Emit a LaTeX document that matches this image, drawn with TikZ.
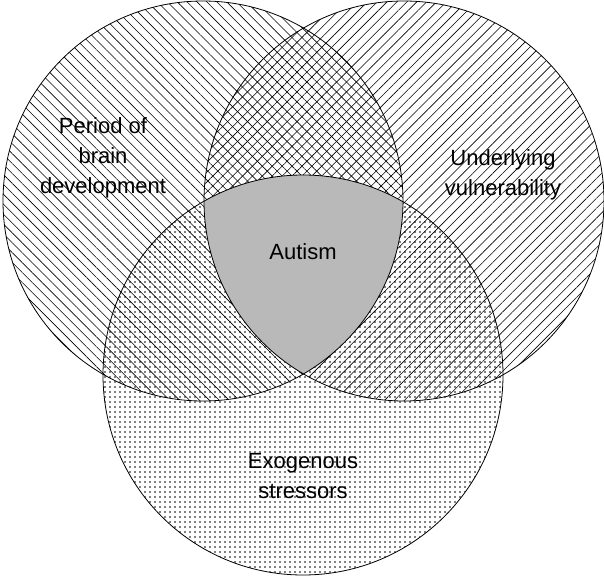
\documentclass[tikz,border=0pt]{standalone}
\usepackage{fontspec}
\setmainfont{Liberation Sans}
\usetikzlibrary{patterns.meta}
\begin{document}
\begin{tikzpicture}[x=1pt,y=-1pt,
  circ/.style={draw=black,line width=0.8pt},
  lbl/.style={align=center,font=\fontsize{22}{30}\selectfont,inner sep=1pt}]
\useasboundingbox (0,0) rectangle (604,577);
\fill[pattern={Lines[angle=-45,distance=7pt,line width=0.6pt]}] (203,201) circle (200);
\fill[pattern={Lines[angle=45,distance=7pt,line width=0.6pt]}] (404,201) circle (200);
\fill[pattern={Dots[radius=0.85pt,distance=5pt]}] (303,375) circle (200);
\begin{scope}
\clip (203,201) circle (200);
\clip (404,201) circle (200);
\fill[gray!55] (303,375) circle (200);
\end{scope}
\draw[circ] (203,201) circle (200);
\draw[circ] (404,201) circle (200);
\draw[circ] (303,375) circle (200);
\node[lbl] (p) at (103,158) {Period of\\brain\\development};
\node[lbl] (u) at (503,175) {Underlying\\vulnerability};
\node[lbl] (a) at (303,252) {Autism};
\node[lbl] (e) at (303,476) {Exogenous\\stressors};
\end{tikzpicture}
\end{document}
